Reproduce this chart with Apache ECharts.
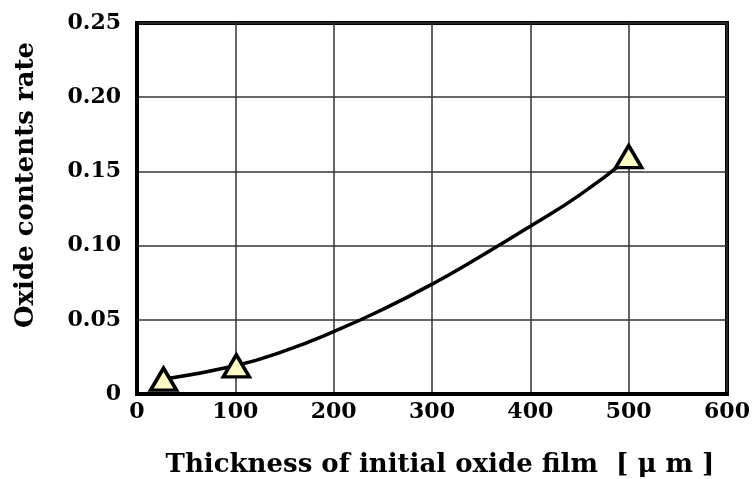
<!DOCTYPE html>
<html><head><meta charset="utf-8">
<script src="https://cdn.jsdelivr.net/npm/echarts@6/dist/echarts.min.js"></script>
<style>html,body{margin:0;padding:0;background:#fff}#c{width:755px;height:479px}</style>
</head><body><div id="c"></div>
<script>
// Measured points (markers)
const pointX = [27, 101, 500];
const pointY = [0.010, 0.019, 0.160];
// Fitted curve
const curveX = [27, 100, 150, 200, 250, 300, 350, 400, 450, 500];
const curveY = [0.010, 0.019, 0.029, 0.042, 0.057, 0.074, 0.093, 0.113, 0.134, 0.159];
const xTicks = [0, 100, 200, 300, 400, 500, 600];
const yTicks = [0, 0.05, 0.10, 0.15, 0.20, 0.25];
const xTitle = 'Thickness of initial oxide film  [ μ m ]';
const yTitle = 'Oxide contents rate';

const font = 'DejaVu Serif';
const chart = echarts.init(document.getElementById('c'), null, {renderer: 'canvas'});
chart.setOption({
  animation: false,
  backgroundColor: '#fff',
  grid: {left: 137, right: 28, top: 23, bottom: 85, show: true, borderColor: '#000', borderWidth: 4, backgroundColor: 'transparent'},
  xAxis: {
    type: 'value', min: xTicks[0], max: xTicks[xTicks.length-1], interval: 100,
    axisLine: {show: true, lineStyle: {color: '#000', width: 4}},
    axisTick: {show: false},
    splitLine: {show: true, lineStyle: {color: '#333', width: 1.5}},
    axisLabel: {color: '#000', fontFamily: font, fontWeight: 'bold', fontSize: 22, margin: 7}
  },
  yAxis: {
    type: 'value', min: yTicks[0], max: yTicks[yTicks.length-1], interval: 0.05,
    axisLine: {show: true, lineStyle: {color: '#000', width: 4}},
    axisTick: {show: false},
    splitLine: {show: true, lineStyle: {color: '#333', width: 1.5}},
    axisLabel: {color: '#000', fontFamily: font, fontWeight: 'bold', fontSize: 22, margin: 16,
      formatter: v => v === 0 ? '0' : v.toFixed(2)}
  },
  graphic: [
    {type: 'text', x: 440, y: 465, style: {text: xTitle, fill: '#000', font: 'bold 26px "DejaVu Serif"', align: 'center', verticalAlign: 'middle'}},
    {type: 'text', x: 26, y: 185, rotation: Math.PI / 2, style: {text: yTitle, fill: '#000', font: 'bold 26px "DejaVu Serif"', align: 'center', verticalAlign: 'middle'}}
  ],
  series: [
    {
      type: 'line', smooth: true, symbol: 'none',
      data: curveX.map((x, i) => [x, curveY[i]]),
      lineStyle: {color: '#000', width: 3.5}, z: 3
    },
    {
      type: 'scatter', symbol: 'triangle', symbolSize: [26, 22],
      data: pointX.map((x, i) => [x, pointY[i]]),
      itemStyle: {color: '#fdfcc6', borderColor: '#000', borderWidth: 3.5, opacity: 1}, z: 4
    }
  ]
});
</script></body></html>
